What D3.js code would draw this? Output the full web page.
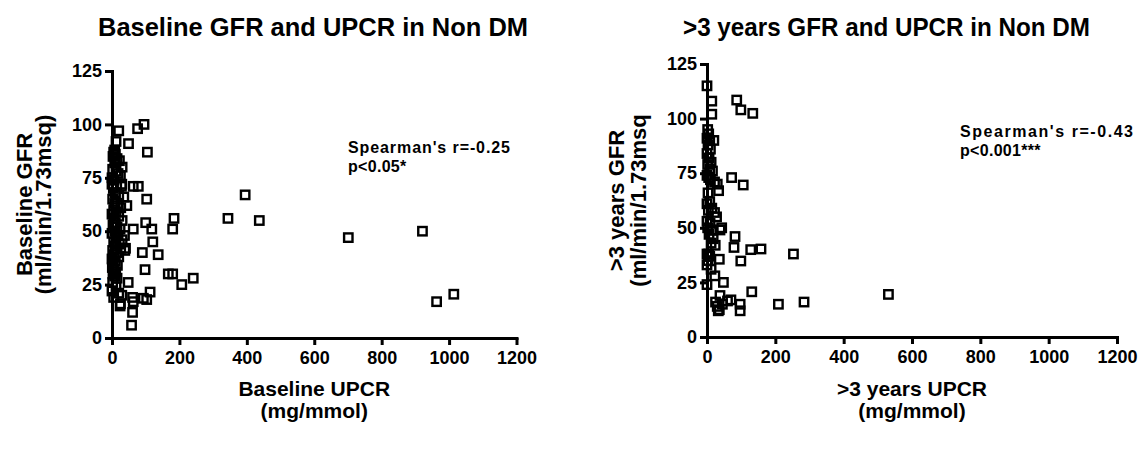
<!DOCTYPE html>
<html>
<head>
<meta charset="utf-8">
<script src="https://cdn.jsdelivr.net/npm/d3@7"></script>
<style>
  body { margin: 0; background: #fff; }
  svg { font-family: "Liberation Sans", Arial, sans-serif; font-weight: bold; }
</style>
</head>
<body>
<script>

// values
let upcrTicks = [0, 200, 400, 600, 800, 1000, 1200];
let gfrTicks = [0, 25, 50, 75, 100, 125];

let baselineUPCR = [20, 12, 8, 5, 10, 3, 15, 22, 8, 30, 2, 12, 18, 25, 0, 6, 0, 14, 28, 4,
    10, 20, 35, 2, 8, 16, 26, 5, 12, 0, 20, 6, 30, 10, 3, 15, 24, 8, 0, 18,
    12, 30, 5, 22, 9, 26, 2, 14, 7, 20, 0, 10, 4, 16, 1, 6, 11, 3, 8, 15,
    2, 12, 0, 20, 5, 25,
    37, 40, 38, 44, 49, 29, 63, 78, 76, 95, 105, 103, 63, 100, 118, 121, 137, 90, 98, 167,
    180, 207, 241, 184, 180, 395, 344, 437, 48, 29, 61, 63, 93, 103, 113, 24, 61, 58, 701, 921,
    963, 1014];
let baselineGFR = [97, 92, 88, 87, 86, 85, 84, 83, 82, 80, 79, 78, 77, 76, 75, 74, 72, 71, 71, 70,
    68, 67, 66, 65, 63, 62, 61, 60, 59, 58, 57, 56, 55, 54, 53, 52, 51, 50, 49, 48,
    47, 46, 45, 44, 43, 42, 41, 40, 39, 38, 37, 36, 35, 34, 33, 32, 31, 30, 29, 28,
    26, 24, 22, 21, 19, 16,
    48, 42, 41, 62, 91, 72, 71, 71, 98, 100, 87, 65, 51, 54, 51, 45, 39, 40, 32, 30,
    30, 25, 28, 56, 51, 67, 56, 55, 26, 20, 19, 17, 18.6, 18, 21.5, 15, 12, 6, 47, 50,
    17, 20.5];

let lateUPCR = [0, 14, 14, 2, 5, 0, 8, 20, 3, 10, 0, 6, 12, 2, 8, 16, 0, 5, 10, 22,
    30, 34, 3, 8, 0, 14, 4, 22, 28, 0, 9, 2, 15, 38, 6, 18, 12, 24, 0, 8,
    3, 0, 12, 23, 0, 5,
    87, 99, 134, 72, 106, 43, 82, 79, 128, 158, 253, 36, 99, 48, 131, 38, 25, 45, 60, 70,
    30, 33, 36, 97, 97, 209, 284, 531];
let lateGFR = [115, 108, 102, 95, 93, 91, 90, 90, 88, 86, 84, 82, 80, 79, 77, 76, 74, 73, 72, 71,
    70, 67, 66, 62, 61, 59, 58, 57, 55, 53, 52, 50, 49, 49, 47, 45, 43, 42, 38, 37,
    35, 33, 31, 28, 24, 38,
    108.5, 104, 102.4, 73, 69.6, 50, 46, 41, 40, 40.3, 38, 35.6, 34.8, 25, 20.7, 19, 16, 15, 16.5, 17,
    14, 12, 12.5, 15, 12, 15, 16, 19.5];

let titles = ["Baseline GFR and UPCR in Non DM", ">3 years GFR and UPCR in Non DM"];
let yTitles = [["Baseline GFR", "(ml/min/1.73msq)"], [">3 years GFR", "(ml/min/1.73msq"]];
let xTitles = [["Baseline UPCR", "(mg/mmol)"], [">3 years UPCR", "(mg/mmol)"]];
let stats = [["Spearman's r=-0.25", "p<0.05*"], ["Spearman's r=-0.43", "p<0.001***"]];


var svg = d3.select("body")
    .append("svg")
    .attr("width", 1143)
    .attr("height", 454);

svg.append("rect")
    .attr("width", 1143)
    .attr("height", 454)
    .attr("fill", "white");

function drawPanel(p) {

    var x = d3.scaleLinear().domain([0, 1200]).range([p.left, p.right]);
    var y = d3.scaleLinear().domain([0, 125]).range([p.bottom, p.top]);

    var g = svg.append("g");

    var xAxis = g.append("g")
        .attr("transform", "translate(0," + p.bottom + ")")
        .call(d3.axisBottom(x).tickValues(upcrTicks).tickFormat(d3.format("d"))
            .tickSize(7).tickPadding(6).tickSizeOuter(0));

    var yAxis = g.append("g")
        .attr("transform", "translate(" + p.left + ",0)")
        .call(d3.axisLeft(y).tickValues(gfrTicks).tickFormat(d3.format("d"))
            .tickSize(7).tickPadding(3).tickSizeOuter(0));

    [xAxis, yAxis].forEach(function (a) {
        a.select(".domain").attr("stroke", "#000").attr("stroke-width", 3).attr("stroke-linecap", "square");
        a.selectAll(".tick line").attr("stroke", "#000").attr("stroke-width", 3);
        a.selectAll(".tick text")
            .attr("fill", "#000")
            .style("font-size", "18px")
            .style("font-weight", "bold")
            .style("font-family", "'Liberation Sans', Arial, sans-serif");
    });

    // hollow squares
    g.selectAll("rect.pt")
        .data(p.xs)
        .enter()
        .append("rect")
        .attr("class", "pt")
        .attr("x", function (d) { return x(d) - 4.2; })
        .attr("y", function (d, i) { return y(p.ys[i]) - 4.2; })
        .attr("width", 8.4)
        .attr("height", 8.4)
        .attr("fill", "none")
        .attr("stroke", "#000")
        .attr("stroke-width", 2.4);

    // title
    g.append("text")
        .attr("x", p.titleX)
        .attr("y", 36)
        .attr("text-anchor", "middle")
        .attr("textLength", p.titleLen)
        .attr("lengthAdjust", "spacingAndGlyphs")
        .style("font-size", "25px")
        .text(p.title);

    // y title, two lines, rotated
    p.yTitle.forEach(function (t, i) {
        g.append("text")
            .attr("transform", "translate(" + p.yTitleX[i] + "," + ((p.top + p.bottom) / 2) + ") rotate(-90)")
            .attr("text-anchor", "middle")
            .style("font-size", "22px")
            .text(t);
    });

    // x title
    p.xTitle.forEach(function (t, i) {
        g.append("text")
            .attr("x", (p.left + p.right) / 2)
            .attr("y", 396 + i * 22)
            .attr("text-anchor", "middle")
            .style("font-size", "21px")
            .text(t);
    });

    // correlation note
    g.append("text")
        .attr("x", p.statX)
        .attr("y", p.statY)
        .attr("textLength", p.statLen)
        .attr("lengthAdjust", "spacing")
        .style("font-size", "16px")
        .text(p.stat[0]);
    g.append("text")
        .attr("x", p.statX)
        .attr("y", p.statY + 19)
        .style("font-size", "16px")
        .style("letter-spacing", "0.3px")
        .text(p.stat[1]);
}

drawPanel({
    xs: baselineUPCR, ys: baselineGFR,
    left: 112, right: 516.5, top: 71, bottom: 338,
    title: titles[0], titleX: 313, titleLen: 430,
    yTitle: yTitles[0], yTitleX: [32, 51],
    xTitle: xTitles[0],
    stat: stats[0], statX: 348, statY: 153, statLen: 162
});

drawPanel({
    xs: lateUPCR, ys: lateGFR,
    left: 707, right: 1117, top: 64, bottom: 337,
    title: titles[1], titleX: 886.5, titleLen: 407,
    yTitle: yTitles[1], yTitleX: [624, 646],
    xTitle: xTitles[1],
    stat: stats[1], statX: 960, statY: 136.5, statLen: 173
});

</script>
</body>
</html>
